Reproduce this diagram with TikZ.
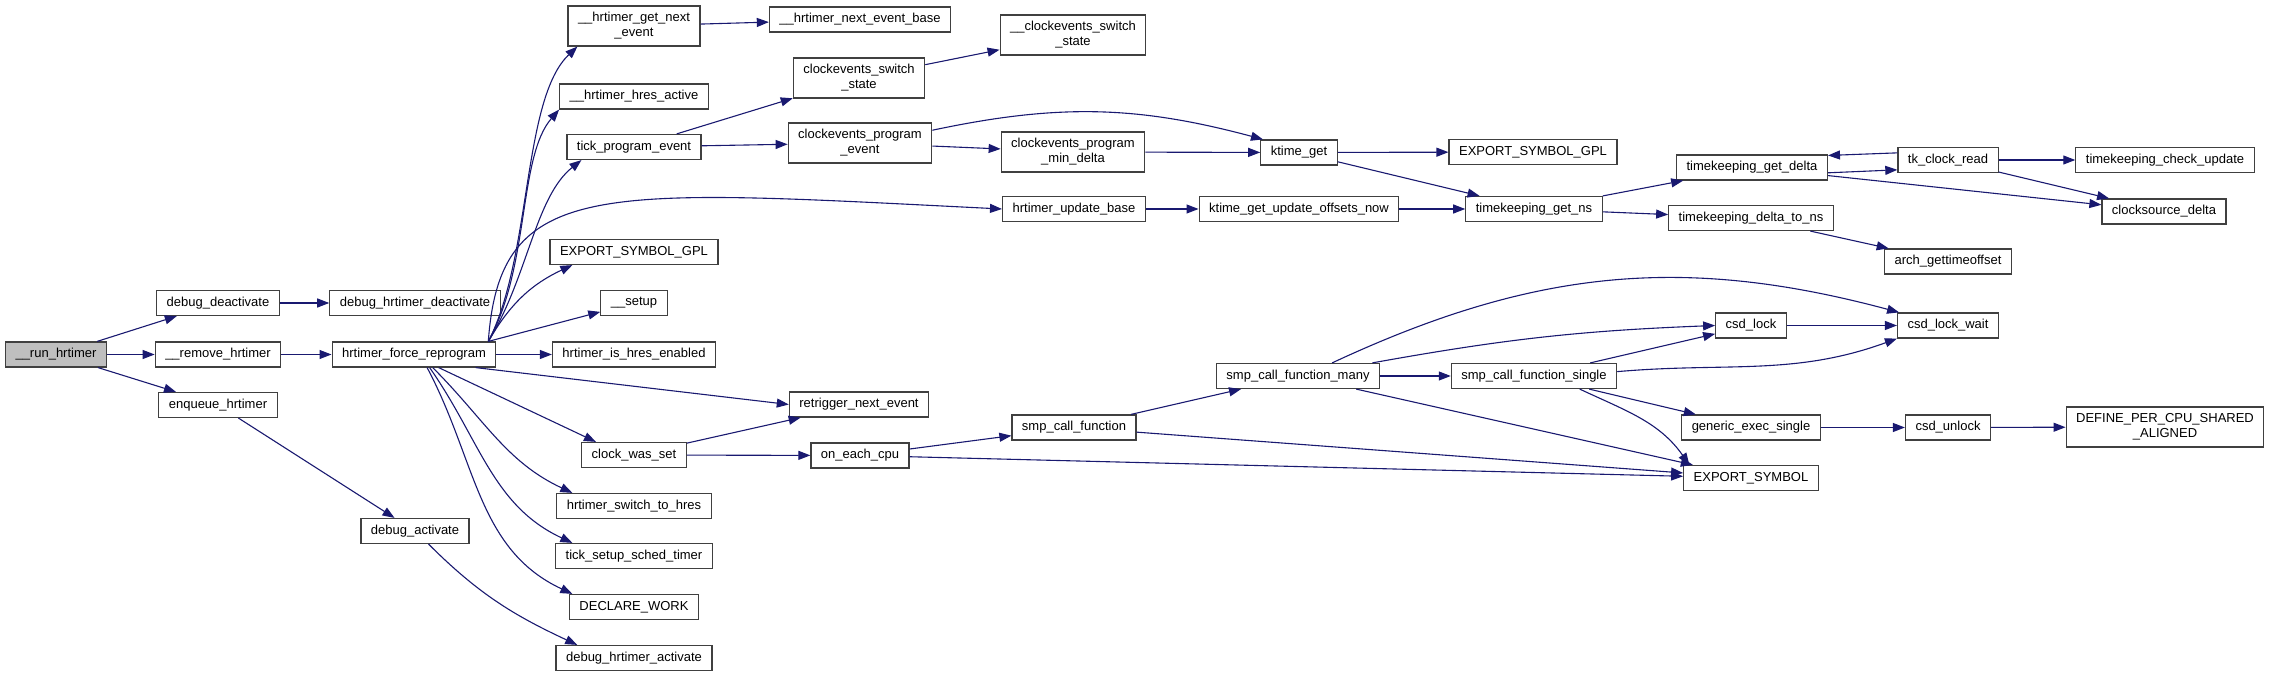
\documentclass[tikz,border=0pt]{standalone}
\usepackage{fontspec}
\setmainfont{Liberation Sans}
\usepackage{xcolor}
\usepackage{tikz}
\usetikzlibrary{arrows.meta}
\definecolor{edgeblue}{RGB}{25,25,112}
\definecolor{rootgray}{RGB}{191,191,191}
\tikzset{
fn/.style={
draw=black!75,
line width=1.2pt,
fill=white,
minimum height=25pt,
inner xsep=10pt,
inner ysep=3pt,
align=center,
font=\fontsize{13}{15}\selectfont
},
rootfn/.style={
fn,
fill=rootgray
},
tall/.style={
minimum height=40pt
},
arrow/.style={
-{Triangle[length=12pt,width=9pt]},
line width=1.1pt,
draw=edgeblue
}
}
\begin{document}
\begin{tikzpicture}[x=1pt,y=1pt]
\useasboundingbox (0,0) rectangle (2273,677);
% caller chain
\node[rootfn](run) at (56,322.5){\_\_run\_hrtimer};
\node[fn](dd) at (218,374){debug\_deactivate};
\node[fn](rem) at (218,322.5){\_\_remove\_hrtimer};
\node[fn](enq) at (218,272){enqueue\_hrtimer};
\node[fn](dhd) at (415,374){debug\_hrtimer\_deactivate};
\node[fn](fr) at (414,322.5){hrtimer\_force\_reprogram};
\node[fn](da) at (415,146){debug\_activate};
% called by hrtimer_force_reprogram
\node[fn,tall](gne) at (634,651){\_\_hrtimer\_get\_next\\\_event};
\node[fn](hres) at (634,580.5){\_\_hrtimer\_hres\_active};
\node[fn](tpe) at (634,530){tick\_program\_event};
\node[fn](esga) at (634,425){EXPORT\_SYMBOL\_GPL};
\node[fn](setup) at (634,374){\_\_setup};
\node[fn](hie) at (634,322.5){hrtimer\_is\_hres\_enabled};
\node[fn](cws) at (634,222){clock\_was\_set};
\node[fn](hsw) at (634,171){hrtimer\_switch\_to\_hres};
\node[fn](tss) at (634,121){tick\_setup\_sched\_timer};
\node[fn](dw) at (634,70){DECLARE\_WORK};
\node[fn](dha) at (634,19){debug\_hrtimer\_activate};
% next columns
\node[fn](neb) at (860,657.5){\_\_hrtimer\_next\_event\_base};
\node[fn,tall](cess) at (859,599){clockevents\_switch\\\_state};
\node[fn,tall](cpe) at (860,534){clockevents\_program\\\_event};
\node[fn](ret) at (859,272.5){retrigger\_next\_event};
\node[fn](oec) at (860,221.5){on\_each\_cpu};
\node[fn,tall](ucess) at (1073,642){\_\_clockevents\_switch\\\_state};
\node[fn,tall](cpmd) at (1073,525){clockevents\_program\\\_min\_delta};
\node[fn](hub) at (1074,468){hrtimer\_update\_base};
\node[fn](scf) at (1074,249.5){smp\_call\_function};
\node[fn](kg) at (1299,524.5){ktime\_get};
\node[fn](kguo) at (1299,468){ktime\_get\_update\_offsets\_now};
\node[fn](scfm) at (1298,301){smp\_call\_function\_many};
\node[fn](esgb) at (1533,525){EXPORT\_SYMBOL\_GPL};
\node[fn](tgn) at (1534,468){timekeeping\_get\_ns};
\node[fn](scfs) at (1534,301){smp\_call\_function\_single};
\node[fn](tgd) at (1752,509.5){timekeeping\_get\_delta};
\node[fn](tdn) at (1751,459){timekeeping\_delta\_to\_ns};
\node[fn](cl) at (1751,351.5){csd\_lock};
\node[fn](ges) at (1751,249.5){generic\_exec\_single};
\node[fn](es) at (1751,199){EXPORT\_SYMBOL};
\node[fn](tkr) at (1948,517){tk\_clock\_read};
\node[fn](arch) at (1948,415.5){arch\_gettimeoffset};
\node[fn](clw) at (1948,351.5){csd\_lock\_wait};
\node[fn](cu) at (1948,249.5){csd\_unlock};
\node[fn](tcu) at (2165,517){timekeeping\_check\_update};
\node[fn](csd) at (2164,465.5){clocksource\_delta};
\node[fn,tall](dpc) at (2165,250){DEFINE\_PER\_CPU\_SHARED\\\_ALIGNED};

% straight calls
\foreach \x/\y in {run/dd,run/rem,run/enq,dd/dhd,rem/fr,enq/da,fr/hie,gne/neb,
tpe/cess,tpe/cpe,cess/ucess,cpe/cpmd,cpmd/kg,kg/esgb,kg/tgn,hub/kguo,kguo/tgn,
tgn/tgd,tgn/tdn,tgd/csd,tkr/tcu,tkr/csd,tdn/arch,cws/ret,cws/oec,oec/scf,oec/es,
scf/scfm,scf/es,scfm/scfs,scfm/es,scfs/cl,scfs/ges,cl/clw,ges/cu,cu/dpc}
\draw[arrow](\x)--(\y);

% fan out of hrtimer_force_reprogram
\draw[arrow](fr.10) .. controls (532,420) and (522,578) .. (gne.200);
\draw[arrow](fr.10) .. controls (530,410) and (518,520) .. (hres.south west);
\draw[arrow](fr.10) .. controls (528,400) and (535,480) .. (tpe.194);
\draw[arrow](fr.10) .. controls (500,500) and (600,488) .. (hub.west);
\draw[arrow](fr.10) to[out=60,in=205] (esga.192);
\draw[arrow](fr.10)--(setup);
\draw[arrow](fr.-12)--(ret.west);
\draw[arrow](fr.-28)--(cws.161);
\draw[arrow](fr.-35) to[out=-45,in=155] (hsw.168);
\draw[arrow](fr.-40) to[out=-55,in=155] (tss.168);
\draw[arrow](fr.-45) to[out=-62,in=155] (dw.168);
\draw[arrow](da.-44) to[out=-45,in=155] (dha.167);

% curved ones on the right
\draw[arrow](cpe.10) to[out=12,in=165] (kg.160);
\draw[arrow](tgd.-4)--(tkr.191);
\draw[arrow](tkr.172)--(tgd.9);
\draw[arrow](scfm.21) to[out=25,in=165] (clw.165);
\draw[arrow](scfm.10) to[bend left=4] (cl.west);
\draw[arrow](scfs.3) to[out=5,in=200] (clw.south west);
\draw[arrow](scfs.-16) to[out=-25,in=125] (es.168);
\end{tikzpicture}
\end{document}
